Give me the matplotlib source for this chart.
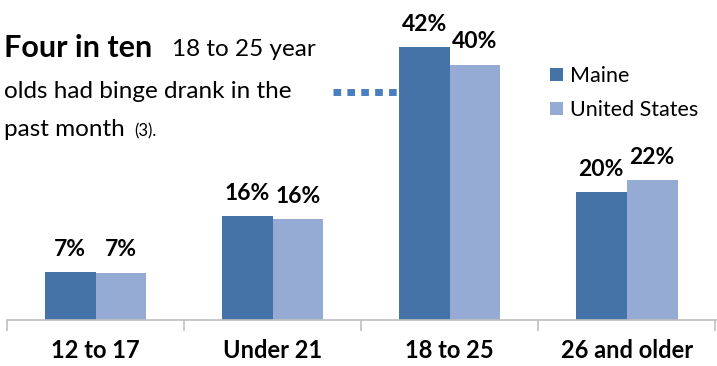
import matplotlib
matplotlib.use("Agg")
import matplotlib.pyplot as plt
import numpy as np

plt.rcParams['font.family'] = ['Lato', 'DejaVu Sans']

categories = ["12 to 17", "Under 21", "18 to 25", "26 and older"]
maine = [7.4, 16.1, 42.3, 19.8]
us = [7.3, 15.6, 39.6, 21.7]
series_names = ["Maine", "United States"]

maine_color = "#4573A7"
us_color = "#95ABD3"

W, H = 717, 366
fig = plt.figure(figsize=(W / 100, H / 100), dpi=100)
ax = fig.add_axes([7 / W, (H - 320) / H, 710 / W, 320 / H])

x = np.arange(len(categories))
bw = 0.287
b1 = ax.bar(x - bw / 2, maine, bw, color=maine_color, label=series_names[0])
b2 = ax.bar(x + bw / 2, us, bw, color=us_color, label=series_names[1])

for bars, vals in [(b1, maine), (b2, us)]:
    for rect, v in zip(bars, vals):
        ax.annotate(f"{v:.0f}%", (rect.get_x() + rect.get_width() / 2, v),
                    xytext=(0, 9), textcoords="offset points",
                    ha="center", va="bottom", fontsize=16.5, fontweight="bold")

ax.set_xlim(-0.5, len(categories) - 0.5 + 0.01)
ax.set_ylim(0, 49.6)
for s in ["top", "right", "left"]:
    ax.spines[s].set_visible(False)
ax.spines["bottom"].set_color("#BFBFBF")
ax.spines["bottom"].set_linewidth(1.2)
ax.set_yticks([])
ax.set_xticks(np.arange(len(categories) + 1) - 0.5, minor=False)
ax.set_xticklabels([])
ax.tick_params(axis="x", length=8, color="#BFBFBF", width=1.2)
for i, c in enumerate(categories):
    ax.text(i, -4.8, c, ha="center", va="center", fontsize=17, fontweight="bold")

ax.legend(loc="upper left", bbox_to_anchor=(550 / W, 1 - 66 / H), bbox_transform=fig.transFigure,
          frameon=False, fontsize=15.5, handlelength=0.6, handleheight=0.6,
          handletextpad=0.35, labelspacing=0.65, borderaxespad=0, borderpad=0)

# annotation text
fig.text(4 / W, 1 - 48 / H, "Four in ten", fontsize=22, fontweight="bold", va="center")
fig.text(172 / W, 1 - 50 / H, "18 to 25 year", fontsize=17.5, va="center")
fig.text(4 / W, 1 - 92 / H, "olds had binge drank in the", fontsize=17.5, va="center")
fig.text(4 / W, 1 - 130 / H, "past month", fontsize=17.5, va="center")
fig.text(134 / W, 1 - 131 / H, "(3).", fontsize=12, va="center")

fig.add_artist(plt.Line2D([333 / W, 400 / W], [1 - 92 / H, 1 - 92 / H], transform=fig.transFigure,
                          color="#4A7EC0", lw=5, linestyle=(0, (1.1, 0.9))))

fig.savefig("out.png", dpi=100)
